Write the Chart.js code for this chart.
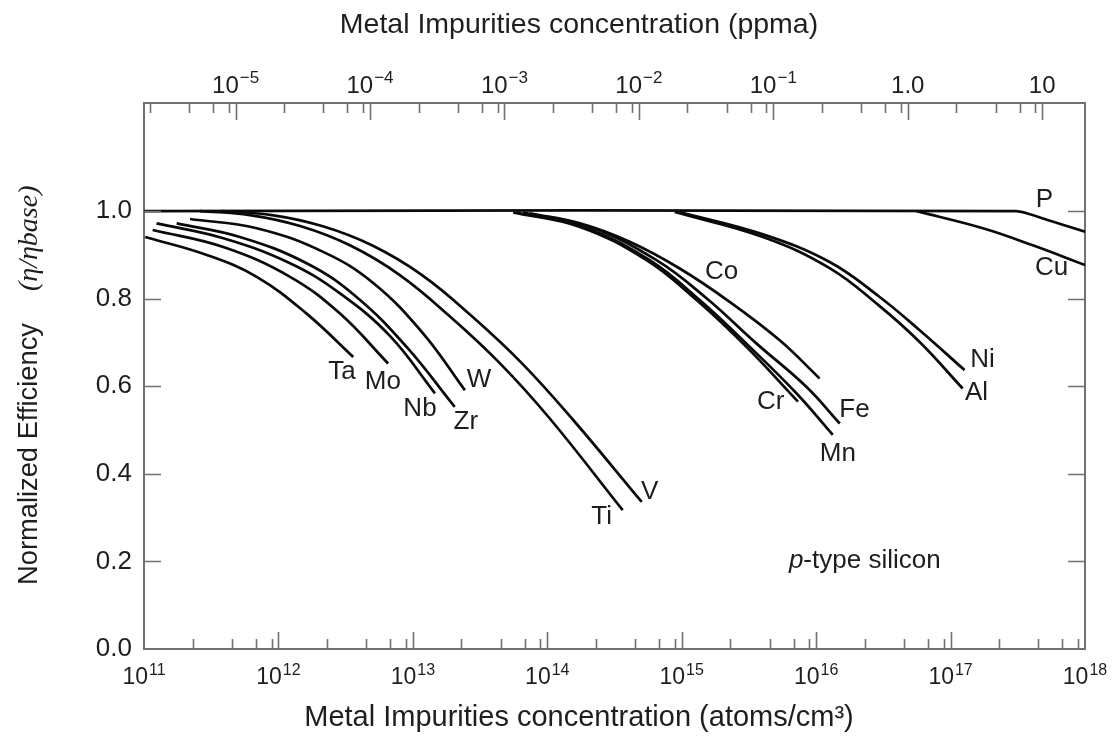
<!DOCTYPE html>
<html>
<head>
<meta charset="utf-8">
<script src="https://cdn.jsdelivr.net/npm/chart.js@4.4.1/dist/chart.umd.min.js"></script>
<style>
  html, body { margin: 0; padding: 0; background: #fff; }
</style>
</head>
<body>
<canvas id="chart" width="1118" height="737"></canvas>
<script>
// concentration (atoms/cm3) vs normalized efficiency
const xMajor = [1e11, 1e12, 1e13, 1e14, 1e15, 1e16, 1e17, 1e18];
const xMajorExp = ['11', '12', '13', '14', '15', '16', '17', '18'];
const ppmaMajor = [1e-5, 1e-4, 1e-3, 1e-2, 1e-1, 1, 10];
const ppmaBase = ['10', '10', '10', '10', '10', '1.0', '10'];
const ppmaExp = ['−5', '−4', '−3', '−2', '−1', '', ''];
const yTicks = [0, 0.2, 0.4, 0.6, 0.8, 1.0];
const yTickLabels = ['0.0', '0.2', '0.4', '0.6', '0.8', '1.0'];
const minorSteps = [2.3, 4.5, 6.8, 8.9];   // where the minor ticks sit in the picture
const atomsPerPpma = 4.8e16;

const p  = [[1e11, 1.0], [3.08e17, 1.0], [5.5e17, 0.978], [1e18, 0.953]];
const cu = [[5.6e16, 1.0], [1.74e17, 0.961], [4.09e17, 0.922], [1e18, 0.877]];
const ta = [[1.02e11, 0.941], [2.93e11, 0.900], [6.89e11, 0.850], [1.62e12, 0.766], [3.60e12, 0.667]];
const mo = [[1.16e11, 0.957], [3.89e11, 0.918], [1.22e12, 0.850], [2.87e12, 0.766], [6.55e12, 0.652]];
const nb = [[1.24e11, 0.972], [3.89e11, 0.938], [1.22e12, 0.881], [2.87e12, 0.812], [6.75e12, 0.715], [1.46e13, 0.584]];
const zr = [[1.75e11, 0.972], [5.17e11, 0.941], [1.62e12, 0.881], [3.81e12, 0.804], [8.98e12, 0.690], [2.05e13, 0.553]];
const w  = [[2.20e11, 0.982], [6.89e11, 0.961], [2.15e12, 0.907], [5.07e12, 0.836], [1.19e13, 0.721], [2.44e13, 0.591]];
const ti = [[2.61e11, 1.0], [6.14e11, 0.991], [1.45e12, 0.966], [3.40e12, 0.922], [8.00e12, 0.854], [1.88e13, 0.760], [4.43e13, 0.653], [1.04e14, 0.527], [3.64e14, 0.317]];
const v  = [[3.80e11, 1.0], [8.95e11, 0.991], [2.11e12, 0.966], [4.96e12, 0.922], [1.17e13, 0.854], [2.75e13, 0.760], [6.46e13, 0.653], [1.52e14, 0.527], [5.04e14, 0.336]];
const co = [[7.41e13, 0.995], [1.75e14, 0.972], [4.10e14, 0.930], [9.66e14, 0.869], [2.27e15, 0.793], [5.36e15, 0.705], [1.06e16, 0.618]];
const cr = [[5.57e13, 0.997], [1.75e14, 0.964], [5.47e14, 0.888], [1.29e15, 0.797], [3.03e15, 0.690], [7.33e15, 0.565]];
const fe = [[6.61e13, 0.997], [2.07e14, 0.964], [6.49e14, 0.888], [1.53e15, 0.801], [3.59e15, 0.698], [8.45e15, 0.599], [1.50e16, 0.515]];
const mn = [[5.90e13, 0.997], [1.85e14, 0.964], [5.78e14, 0.888], [1.36e15, 0.797], [3.21e15, 0.690], [7.13e15, 0.584], [1.33e16, 0.489]];
const ni = [[9.66e14, 0.998], [4.02e15, 0.947], [1.26e16, 0.884], [2.97e16, 0.804], [5.89e16, 0.728], [1.27e17, 0.637]];
const al = [[8.87e14, 0.998], [4.02e15, 0.941], [1.26e16, 0.870], [2.97e16, 0.783], [5.89e16, 0.701], [1.23e17, 0.595]];

const seriesNames = ['P', 'Cu', 'Ta', 'Mo', 'Nb', 'Zr', 'W', 'Ti', 'V', 'Co', 'Cr', 'Fe', 'Mn', 'Ni', 'Al'];
const seriesData = [p, cu, ta, mo, nb, zr, w, ti, v, co, cr, fe, mn, ni, al];

// where each element name is written (same units as the data)
const labelNames = ['Ta', 'Mo', 'Nb', 'Zr', 'W', 'Ti', 'V', 'Co', 'Cr', 'Fe', 'Mn', 'Ni', 'Al', 'P', 'Cu'];
const labelAt = [[2.97e12, 0.632], [5.98e12, 0.610], [1.13e13, 0.548], [2.48e13, 0.518], [3.10e13, 0.614],
                 [2.54e14, 0.301], [5.78e14, 0.358], [1.98e15, 0.861], [4.59e15, 0.564], [1.93e16, 0.546],
                 [1.45e16, 0.445], [1.73e17, 0.660], [1.56e17, 0.584], [5.00e17, 1.025], [5.64e17, 0.870]];
const noteAt = [2.30e16, 0.201];

const axisColor = '#707070';
const textColor = '#1e1e1e';
const sans = '"Liberation Sans", Arial, sans-serif';
const serif = '"Liberation Serif", serif';

const decor = {
  id: 'decor',
  afterDraw(chart) {
    const {ctx, chartArea: a, scales} = chart;
    ctx.save();

    // inward tick marks on all four sides
    ctx.strokeStyle = axisColor;
    ctx.lineWidth = 1.6;
    ctx.beginPath();
    const logTicks = (scale, edge, dir) => {
      const lo = Math.floor(Math.log10(scale.min));
      const hi = Math.ceil(Math.log10(scale.max));
      for (let d = lo; d <= hi; d++) {
        [1, ...minorSteps].forEach((m, i) => {
          const val = m * Math.pow(10, d);
          if (val <= scale.min * 1.001 || val >= scale.max * 0.999) return;
          const px = Math.round(scale.getPixelForValue(val)) + 0.5;
          const len = i === 0 ? 17 : 10;
          ctx.moveTo(px, edge);
          ctx.lineTo(px, edge + dir * len);
        });
      }
    };
    logTicks(scales.x, a.bottom, -1);
    logTicks(scales.xTop, a.top, 1);
    yTicks.forEach(val => {
      if (val === 0) return;
      const py = Math.round(scales.y.getPixelForValue(val)) + 0.5;
      ctx.moveTo(a.left, py); ctx.lineTo(a.left + 17, py);
      ctx.moveTo(a.right, py); ctx.lineTo(a.right - 17, py);
    });
    ctx.stroke();

    ctx.fillStyle = textColor;
    ctx.textBaseline = 'alphabetic';
    ctx.textAlign = 'left';

    // power-of-ten tick labels
    const powLabel = (cx, baseline, base, exp, bSize, eSize, raise) => {
      ctx.font = bSize + 'px ' + sans;
      const bw = ctx.measureText(base).width;
      ctx.font = eSize + 'px ' + sans;
      const ew = exp ? ctx.measureText(exp).width + 1 : 0;
      const x0 = cx - (bw + ew) / 2;
      ctx.font = bSize + 'px ' + sans;
      ctx.fillText(base, x0, baseline);
      if (exp) {
        ctx.font = eSize + 'px ' + sans;
        ctx.fillText(exp, x0 + bw + 1, baseline - raise);
      }
    };
    xMajor.forEach((val, i) => {
      powLabel(scales.x.getPixelForValue(val), 684, '10', xMajorExp[i], 23, 16, 9);
    });
    ppmaMajor.forEach((val, i) => {
      powLabel(scales.xTop.getPixelForValue(val), 93, ppmaBase[i], ppmaExp[i], 24, 17, 10);
    });

    // element names next to the curves
    ctx.font = '26px ' + sans;
    ctx.textAlign = 'center';
    ctx.textBaseline = 'middle';
    labelNames.forEach((name, i) => {
      ctx.fillText(name, scales.x.getPixelForValue(labelAt[i][0]), scales.y.getPixelForValue(labelAt[i][1]));
    });

    // "p-type silicon" note
    const nx = scales.x.getPixelForValue(noteAt[0]);
    const ny = scales.y.getPixelForValue(noteAt[1]);
    ctx.font = 'italic 26px ' + sans;
    const w1 = ctx.measureText('p').width;
    ctx.font = '26px ' + sans;
    const w2 = ctx.measureText('-type silicon').width;
    ctx.textAlign = 'left';
    ctx.font = 'italic 26px ' + sans;
    ctx.fillText('p', nx - (w1 + w2) / 2, ny);
    ctx.font = '26px ' + sans;
    ctx.fillText('-type silicon', nx - (w1 + w2) / 2 + w1, ny);

    // axis titles
    ctx.textAlign = 'center';
    ctx.font = '28.5px ' + sans;
    ctx.fillText('Metal Impurities concentration (ppma)', 579, 25);
    ctx.font = '29px ' + sans;
    ctx.fillText('Metal Impurities concentration (atoms/cm³)', 579, 718);

    ctx.translate(37, 585);
    ctx.rotate(-Math.PI / 2);
    ctx.textAlign = 'left';
    ctx.textBaseline = 'alphabetic';
    ctx.font = '27.3px ' + sans;
    const a1 = ctx.measureText('Normalized Efficiency').width;
    ctx.fillText('Normalized Efficiency', 0, 0);
    ctx.font = 'italic 28px ' + serif;
    ctx.fillText('(η/ηbase)', a1 + 32, 0);
    ctx.restore();
  }
};

const datasets = seriesNames.map((name, i) => ({
  label: name,
  data: seriesData[i].map(pt => ({x: pt[0], y: pt[1]})),
  borderColor: '#0a0a0a',
  borderWidth: 2.7,
  pointRadius: 0,
  fill: false,
  tension: name === 'P' ? 0.2 : 0.4
}));

new Chart(document.getElementById('chart'), {
  type: 'line',
  data: {datasets: datasets},
  options: {
    responsive: false,
    animation: false,
    events: [],
    layout: {padding: 0},
    plugins: {legend: {display: false}, tooltip: {enabled: false}},
    scales: {
      x: {
        type: 'logarithmic', position: 'bottom', min: 1e11, max: 1e18,
        grid: {display: false},
        border: {display: true, color: axisColor, width: 2},
        afterBuildTicks: sc => { sc.ticks = xMajor.map(val => ({value: val})); },
        ticks: {display: false},
        afterFit: sc => { sc.height = 88; }
      },
      xTop: {
        type: 'logarithmic', position: 'top',
        min: 1e11 / atomsPerPpma, max: 1e18 / atomsPerPpma,
        grid: {display: false},
        border: {display: true, color: axisColor, width: 2},
        afterBuildTicks: sc => { sc.ticks = ppmaMajor.map(val => ({value: val})); },
        ticks: {display: false},
        afterFit: sc => { sc.height = 103; }
      },
      y: {
        type: 'linear', position: 'left', min: 0, max: 1.247,
        grid: {display: false},
        border: {display: true, color: axisColor, width: 2},
        afterBuildTicks: sc => { sc.ticks = yTicks.map(val => ({value: val})); },
        ticks: {autoSkip: false, padding: 4, color: textColor, font: {family: sans, size: 26},
                callback: (val, i) => yTickLabels[i]},
        afterFit: sc => { sc.width = 144; }
      },
      yRight: {
        type: 'linear', position: 'right', min: 0, max: 1.247,
        grid: {display: false},
        border: {display: true, color: axisColor, width: 2},
        ticks: {display: false},
        afterFit: sc => { sc.width = 33; }
      }
    }
  },
  plugins: [decor]
});
</script>
</body>
</html>
